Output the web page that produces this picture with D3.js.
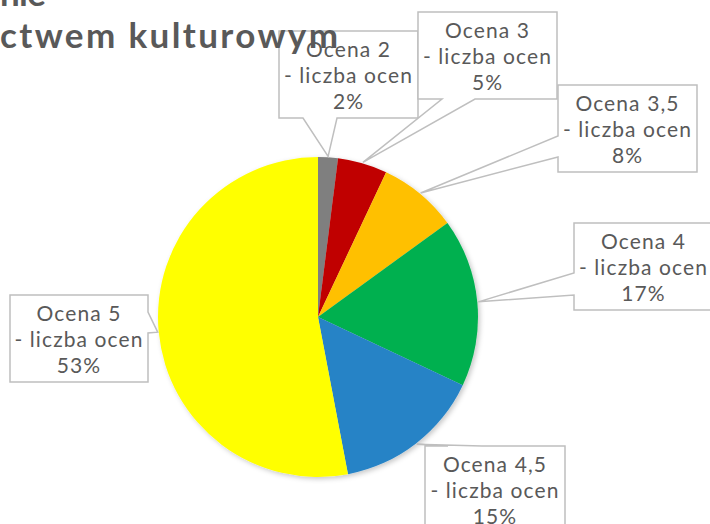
<!DOCTYPE html>
<html>
<head>
<meta charset="utf-8">
<script src="https://cdn.jsdelivr.net/npm/d3@7"></script>
<style>
  body { margin: 0; background: #ffffff; }
  #chart { width: 710px; height: 524px; overflow: hidden; }
</style>
</head>
<body>
<div id="chart"></div>
<script>
// chart values
var categories = ["Ocena 2", "Ocena 3", "Ocena 3,5", "Ocena 4", "Ocena 4,5", "Ocena 5"];
var shares = [2, 5, 8, 17, 15, 53];
var colors = ["#7f7f7f", "#c00000", "#ffc000", "#00b050", "#2683c6", "#ffff00"];
var subLabel = "- liczba ocen";
var titleLines = ["nie", "ctwem kulturowym"];

(function () {
    var width = 710, height = 524;
    var cx = 318, cy = 317, radius = 160;
    var font = "Lato, 'Open Sans', sans-serif";
    var textColor = "#595959";

    // callout boxes (layout only)
    var boxes = [
        {x: 279, y: 31, w: 139, h: 87, side: "bottom", b: [24, 58]},
        {x: 418, y: 12, w: 139, h: 87, side: "bottom", b: [24, 57]},
        {x: 558, y: 85, w: 139, h: 87, side: "left", b: [51, 72]},
        {x: 574, y: 223, w: 139, h: 87, side: "left", b: [50, 72]},
        {x: 425, y: 446, w: 140, h: 87, side: "top", b: [23, 57]},
        {x: 10, y: 295, w: 138, h: 87, side: "right", b: [17, 38]}
    ];

    var data = categories.map(function (c, i) {
        return {name: c, value: shares[i], color: colors[i]};
    });

    var svg = d3.select("#chart").append("svg")
        .attr("width", width)
        .attr("height", height);

    var defs = svg.append("defs");
    var filter = defs.append("filter").attr("id", "shadow")
        .attr("x", "-10%").attr("y", "-10%").attr("width", "130%").attr("height", "130%");
    filter.append("feDropShadow")
        .attr("dx", 2).attr("dy", 2).attr("stdDeviation", 2.5)
        .attr("flood-color", "#000").attr("flood-opacity", 0.22);

    var pie = d3.pie().sort(null).value(function (d) { return d.value; });
    var arc = d3.arc().innerRadius(0).outerRadius(radius);
    var arcs = pie(data);

    var g = svg.append("g")
        .attr("transform", "translate(" + cx + "," + cy + ")");

    g.append("g").attr("filter", "url(#shadow)")
        .selectAll("path")
        .data(arcs)
        .enter().append("path")
        .attr("d", arc)
        .attr("fill", function (d) { return d.data.color; });

    // callouts
    function calloutPath(bx, tip) {
        var x0 = bx.x, y0 = bx.y, x1 = bx.x + bx.w, y1 = bx.y + bx.h;
        var p = [];
        p.push([x0, y0]);
        if (bx.side == "top") { p.push([x0 + bx.b[0], y0], tip, [x0 + bx.b[1], y0]); }
        p.push([x1, y0]);
        if (bx.side == "right") { p.push([x1, y0 + bx.b[0]], tip, [x1, y0 + bx.b[1]]); }
        p.push([x1, y1]);
        if (bx.side == "bottom") { p.push([x0 + bx.b[1], y1], tip, [x0 + bx.b[0], y1]); }
        p.push([x0, y1]);
        if (bx.side == "left") { p.push([x0, y0 + bx.b[1]], tip, [x0, y0 + bx.b[0]]); }
        return "M" + p.map(function (q) { return q[0] + "," + q[1]; }).join("L") + "Z";
    }

    var labels = svg.append("g");
    arcs.forEach(function (d, i) {
        var mid = (d.startAngle + d.endAngle) / 2;
        var tip = [cx + (radius + 1) * Math.sin(mid), cy - (radius + 1) * Math.cos(mid)];
        var bx = boxes[i];
        var lg = labels.append("g");
        lg.append("path")
            .attr("d", calloutPath(bx, tip))
            .attr("fill", "#ffffff")
            .attr("stroke", "#bfbfbf")
            .attr("stroke-width", 1.5);
        var lines = [d.data.name, subLabel, d.data.value + "%"];
        lg.selectAll("text")
            .data(lines)
            .enter().append("text")
            .attr("x", bx.x + bx.w / 2)
            .attr("y", function (t, j) { return bx.y + 26 + j * 26; })
            .attr("text-anchor", "middle")
            .style("font-family", font)
            .style("font-size", "21px")
            .style("letter-spacing", "1.1px")
            .style("fill", textColor)
            .text(function (t) { return t; });
    });

    // title (cut off by the frame)
    svg.append("text")
        .attr("x", 0)
        .attr("y", 6)
        .attr("textLength", 46)
        .attr("lengthAdjust", "spacing")
        .style("font-family", font)
        .style("font-size", "35px")
        .style("font-weight", 700)
        .style("fill", textColor)
        .text(titleLines[0]);
    svg.append("text")
        .attr("x", 0)
        .attr("y", 48)
        .attr("textLength", 338)
        .attr("lengthAdjust", "spacing")
        .style("font-family", font)
        .style("font-size", "35px")
        .style("font-weight", 700)
        .style("fill", textColor)
        .text(titleLines[1]);
})();
</script>
</body>
</html>
